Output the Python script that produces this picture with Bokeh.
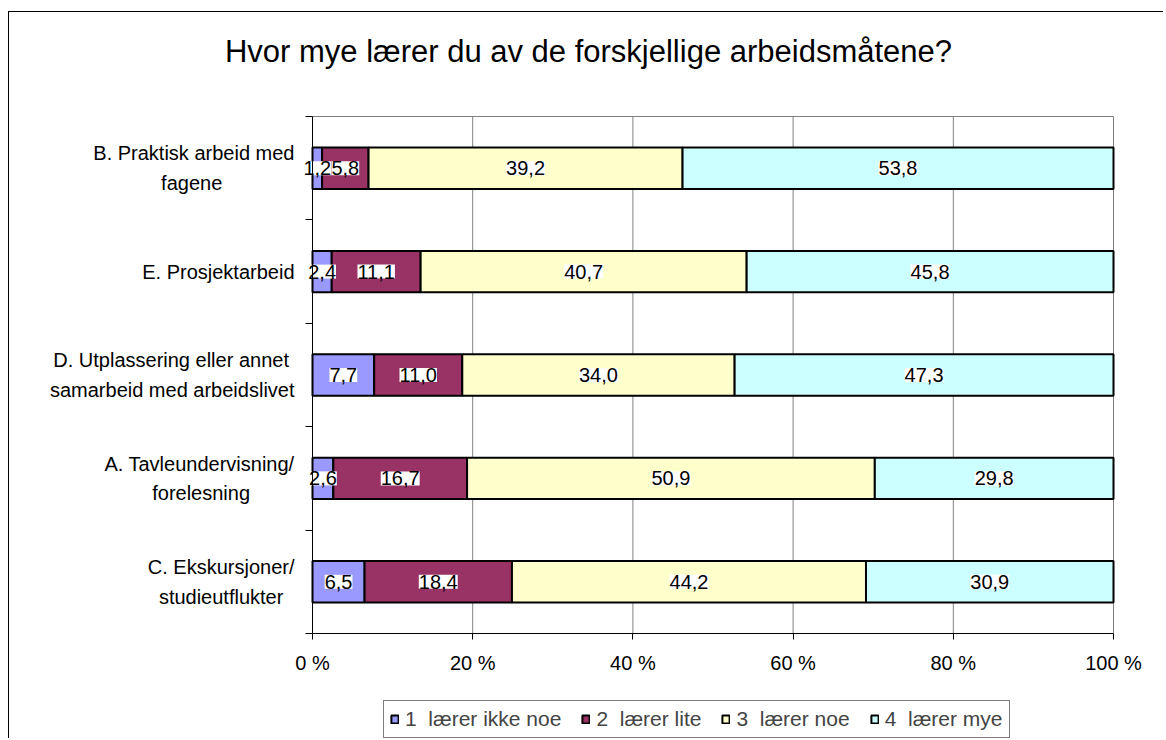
from bokeh.plotting import figure
from bokeh.models import Range1d, FixedTicker, Legend, LegendItem, Label
from bokeh.embed import file_html
from bokeh.resources import INLINE
from bokeh.core.properties import value
import numpy as np

# Categories listed bottom-to-top
categories = [
    "C. Ekskursjoner/\nstudieutflukter",
    "A. Tavleundervisning/\nforelesning",
    "D. Utplassering eller annet\nsamarbeid med arbeidslivet",
    "E. Prosjektarbeid",
    "B. Praktisk arbeid med\nfagene",
]
s1_ikke_noe = [6.5, 2.6, 7.7, 2.4, 1.2]
s2_lite = [18.4, 16.7, 11.0, 11.1, 5.8]
s3_noe = [44.2, 50.9, 34.0, 40.7, 39.2]
s4_mye = [30.9, 29.8, 47.3, 45.8, 53.8]
series_names = ["1  lærer ikke noe", "2  lærer lite", "3  lærer noe", "4  lærer mye"]
colors = ["#9999FF", "#993366", "#FFFFCC", "#CCFFFF"]
x_ticks = [0, 20, 40, 60, 80, 100]
x_tick_labels = ["0 %", "20 %", "40 %", "60 %", "80 %", "100 %"]
title_text = "Hvor mye lærer du av de forskjellige arbeidsmåtene?"

FONT = "Liberation Sans"

# ---- layout (page pixels) ----
W, H = 1155, 727                 # canvas size
CX, CY = 9, 12                   # canvas origin on page (margin + border)
AX_L, AX_R = 312, 1113           # plot area left/right
AX_T, AX_B = 116, 633            # plot area top/bottom
n = len(categories)
ppx = (AX_R - AX_L) / 100.0
ppy = (AX_B - AX_T) / n
x0 = (CX - AX_L) / ppx
x1 = 100 + (CX + W - AX_R) / ppx
y0 = (AX_B - (CY + H)) / ppy
y1 = (AX_B - CY) / ppy

# approximate glyph advance widths (1/1000 em) used to centre two-line labels
_W = {" ": 278, "\u00a0": 278, ".": 278, "/": 278, "A": 667, "B": 667, "C": 722, "D": 722,
      "E": 667, "P": 667, "U": 722, "a": 556, "b": 556, "c": 500, "d": 556, "e": 556,
      "f": 278, "g": 556, "i": 222, "j": 222, "k": 500, "l": 222, "m": 833, "n": 556,
      "o": 556, "p": 556, "r": 333, "s": 500, "t": 278, "u": 556, "v": 500, "y": 500}


def centre_lines(label):
    lines = label.split("\n")
    if len(lines) == 1:
        return label
    widths = [sum(_W.get(ch, 556) for ch in ln) for ln in lines]
    wmax = max(widths)
    return "\n".join(ln + "\u00a0" * int(round((wmax - w) / 2 / 278)) for ln, w in zip(lines, widths))


p = figure(width=W, height=H, x_range=Range1d(x0, x1), y_range=Range1d(y0, y1),
           output_backend="svg", toolbar_location=None,
           min_border_left=0, min_border_right=0, min_border_top=0, min_border_bottom=0)
p.styles = {"margin-left": "8px", "margin-top": "11px",
            "border-left": "1px solid black", "border-top": "1px solid black"}
p.title.visible = False
p.outline_line_color = None
p.xgrid.visible = False
p.ygrid.visible = False

# plot-area border (top, right) and vertical gridlines
grid_x = x_ticks[1:]
p.segment(x0=grid_x, y0=[0] * len(grid_x), x1=grid_x, y1=[n] * len(grid_x),
          line_color="#808080", line_width=1)
p.segment(x0=[0], y0=[n], x1=[100], y1=[n], line_color="#808080", line_width=1)

# x axis
p.xaxis.fixed_location = 0
p.xaxis.bounds = (0, 100)
p.xaxis.ticker = FixedTicker(ticks=x_ticks)
p.xaxis.major_label_overrides = {t: l for t, l in zip(x_ticks, x_tick_labels)}
p.xaxis.minor_tick_line_color = None
p.xaxis.major_tick_out = 6
p.xaxis.major_tick_in = 0
p.xaxis.axis_line_color = "black"
p.xaxis.major_label_text_font = FONT
p.xaxis.major_label_text_font_size = "20px"
p.xaxis.major_label_text_color = "black"
p.xaxis.major_label_standoff = 12

# y axis: labels at band centres, ticks at band edges
ys = np.arange(n) + 0.5
edges = list(range(n + 1))
p.yaxis.fixed_location = 0
p.yaxis.bounds = (0, n)
p.yaxis.ticker = FixedTicker(ticks=list(ys), minor_ticks=edges)
p.yaxis.major_label_overrides = {float(y): centre_lines(c) for y, c in zip(ys, categories)}
p.yaxis.major_tick_out = 0
p.yaxis.major_tick_in = 0
p.yaxis.minor_tick_out = 7
p.yaxis.minor_tick_in = 0
p.yaxis.minor_tick_line_color = "black"
p.yaxis.axis_line_color = "black"
p.yaxis.major_label_text_font = FONT
p.yaxis.major_label_text_font_size = "20px"
p.yaxis.major_label_text_color = "black"
p.yaxis.major_label_text_line_height = 1.35
p.yaxis.major_label_standoff = 11

series = [s1_ikke_noe, s2_lite, s3_noe, s4_mye]
left = np.zeros(n)
items = []
for vals, name, col in zip(series, series_names, colors):
    v = np.array(vals)
    r = p.hbar(y=ys, left=left, right=left + v, height=0.4, fill_color=col,
               line_color="black", line_width=2)
    items.append(LegendItem(label=name, renderers=[r]))
    left = left + v

left = np.zeros(n)
for vals in series:
    v = np.array(vals)
    mid = left + v / 2
    p.text(x=mid, y=ys, text=[f"{x:.1f}".replace(".", ",") for x in vals],
           text_align="center", text_baseline="middle", text_font=value(FONT),
           text_font_size="20px", text_color="black", background_fill_color="white")
    left = left + v

legend = Legend(items=items, location=(383 - CX, (CY + H) - 738), orientation="horizontal",
                border_line_color="black", border_line_width=1, background_fill_alpha=1,
                label_text_font=FONT, label_text_font_size="21px", label_standoff=6,
                glyph_width=9, glyph_height=10, spacing=20, padding=6, margin=0,
                label_height=22)
p.add_layout(legend, "center")

title = Label(x=(588 - AX_L) / ppx, y=(AX_B - 51) / ppy, text=title_text,
              text_align="center", text_baseline="alphabetic",
              text_font=FONT, text_font_size="31px", text_color="black")
p.add_layout(title)

open("out.html", "w").write(file_html(p, INLINE))
